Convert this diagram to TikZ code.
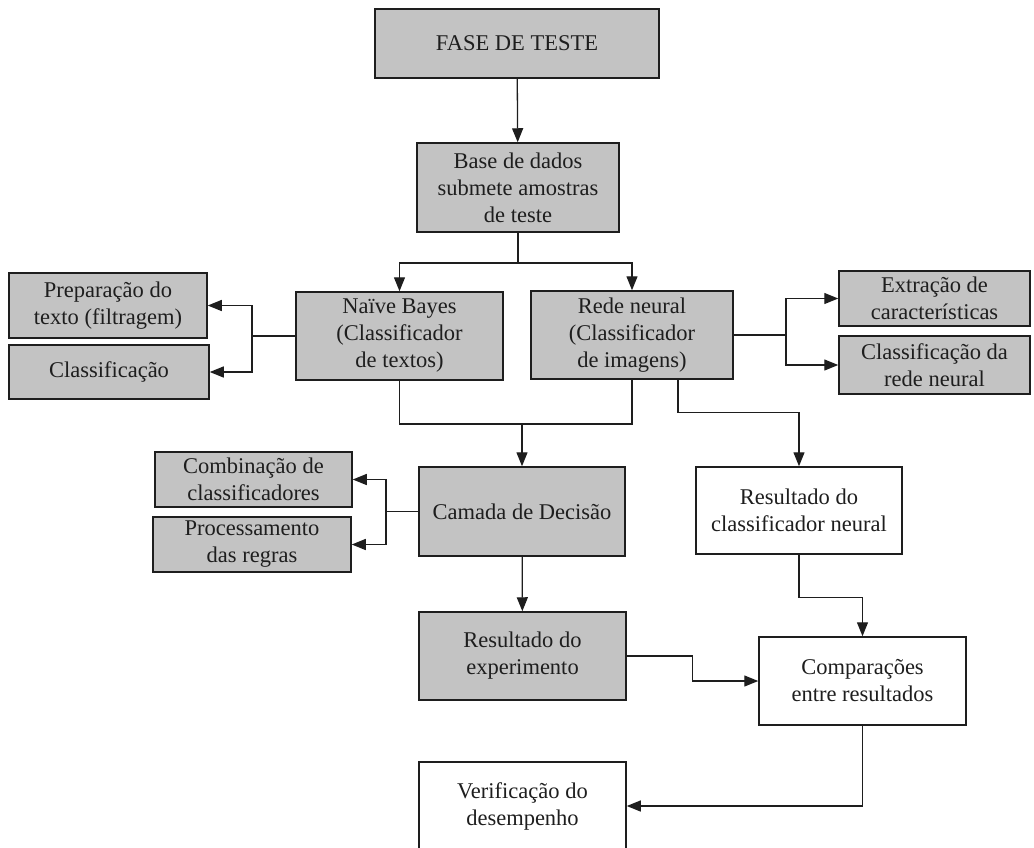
\documentclass[tikz,border=0pt]{standalone}
\usepackage{fontspec}
\setmainfont{Liberation Serif}
\usetikzlibrary{arrows.meta}
\definecolor{boxgray}{HTML}{C3C3C3}
\definecolor{inkgray}{HTML}{1E1E1E}
\begin{document}
\begin{tikzpicture}[x=1pt,y=-1pt,
  box/.style={draw=inkgray, line width=1.5pt, fill=boxgray, align=center,
    inner sep=0pt, font=\fontsize{22.5}{27}\selectfont, text=inkgray},
  whitebox/.style={box, fill=white},
  link/.style={draw=inkgray, line width=1.3pt},
  arr/.style={link, -{Triangle[length=14pt,width=11pt]}}]
\useasboundingbox (0,0) rectangle (1034,847);
\clip (0,0) rectangle (1034,847);

% main flow boxes
\node[box, minimum width=284pt, minimum height=69pt] (fase) at (517,43.5) {FASE DE TESTE};
\node[box, minimum width=202pt, minimum height=89pt] (base) at (518,187.5) {Base de dados\\submete amostras\\de teste};
\node[box, minimum width=207pt, minimum height=88pt] (naive) at (399.5,336) {Naïve Bayes\\(Classificador\\de textos)};
\node[box, minimum width=202pt, minimum height=88pt] (rede) at (632,335) {Rede neural\\(Classificador\\de imagens)};

% side tasks of the classifiers
\node[box, minimum width=198pt, minimum height=65pt] (prep) at (108,305.5) {Preparação do\\texto (filtragem)};
\node[box, minimum width=200pt, minimum height=54pt] (classif) at (109,372) {Classificação};
\node[box, minimum width=191pt, minimum height=55pt] (extr) at (934.5,298.5) {Extração de\\características};
\node[box, minimum width=191pt, minimum height=58pt] (classrede) at (934.5,365) {Classificação da\\rede neural};

% decision layer and its tasks
\node[box, minimum width=206pt, minimum height=89pt] (camada) at (522,511.5) {Camada de Decisão};
\node[box, minimum width=197pt, minimum height=55pt] (comb) at (253.5,479.5) {Combinação de\\classificadores};
\node[box, minimum width=198pt, minimum height=55pt] (proc) at (252,544.5) {Processamento\\das regras};

% results
\node[whitebox, minimum width=206pt, minimum height=87pt] (resneural) at (799,510.5) {Resultado do\\classificador neural};
\node[box, minimum width=207pt, minimum height=88pt] (resexp) at (522.5,656) {Resultado do\\experimento};
\node[whitebox, minimum width=207pt, minimum height=88pt] (comp) at (862.5,681) {Comparações\\entre resultados};
\node[whitebox, minimum width=207pt, minimum height=88pt] (verif) at (522.5,806) {Verificação do\\desempenho};

% junction points
\coordinate (split1) at (518,263);
\coordinate (naivefork) at (252,336);
\coordinate (redefork) at (786,335);
\coordinate (merge) at (522,424);
\coordinate (camfork) at (386,511.5);

% connectors
\draw[arr] (fase) -- (base);
\draw[link] (base.south) -- (split1);
\draw[arr] (split1) -| (naive.north);
\draw[arr] (split1) -| (rede.north);

\draw[link] (naive.west) -- (naivefork);
\draw[arr] (naivefork) |- (prep.east);
\draw[arr] (naivefork) |- (classif.east);

\draw[link] (rede.east) -- (redefork);
\draw[arr] (redefork) |- (extr.west);
\draw[arr] (redefork) |- (classrede.west);

\draw[link] (naive.south) |- (merge) -| (rede.south);
\draw[arr] (merge) -- (camada.north);
\draw[arr] ([xshift=46pt]rede.south) -- ++(0,33) -| (resneural.north);

\draw[link] (camada.west) -- (camfork);
\draw[arr] (camfork) |- (comb.east);
\draw[arr] (camfork) |- (proc.east);

\draw[arr] (camada) -- (resexp);
\draw[arr] (resneural.south) -- ++(0,43) -| (comp.north);
\draw[arr] (resexp.east) -- ++(66,0) |- (comp.west);
\draw[arr] (comp.south) |- (verif.east);
\end{tikzpicture}
\end{document}
